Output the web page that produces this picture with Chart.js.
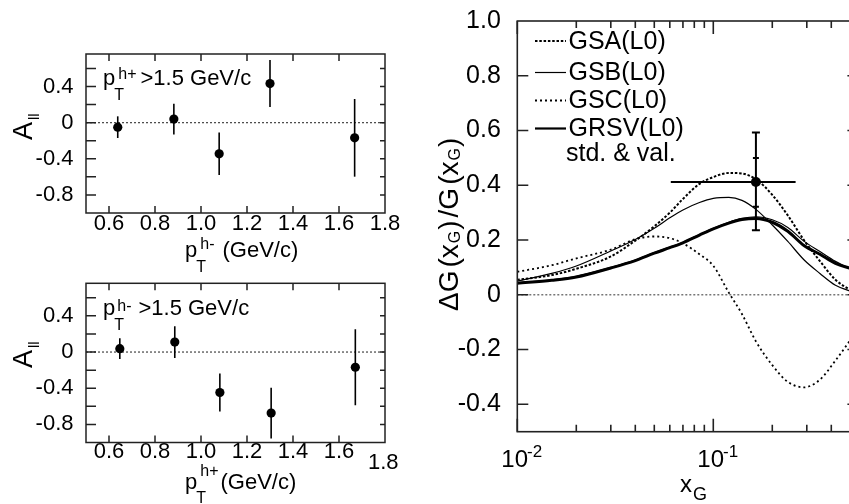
<!DOCTYPE html>
<html><head><meta charset="utf-8">
<script src="https://cdn.jsdelivr.net/npm/chart.js@4.4.0/dist/chart.umd.min.js"></script>
<style>
html,body{margin:0;padding:0;background:#fff;overflow:hidden;width:849px;height:504px;position:relative;}
canvas{position:absolute;}
#cA{left:0;top:0;} #cB{left:0;top:250px;} #cC{left:420px;top:0;}
</style></head><body>
<canvas id="cA" width="420" height="280"></canvas>
<canvas id="cB" width="420" height="254"></canvas>
<canvas id="cC" width="445" height="504"></canvas>
<script>
// ---------------- data ----------------
// top-left panel: pT(h+) > 1.5 GeV/c, A_ll vs pT(h-)
const topPt   = [0.638, 0.882, 1.079, 1.300, 1.668];
const topAll  = [-0.050, 0.040, -0.345, 0.433, -0.168];
const topErr  = [0.120, 0.170, 0.235, 0.260, 0.430];
// bottom-left panel: pT(h-) > 1.5 GeV/c, A_ll vs pT(h+)
const botPt   = [0.647, 0.886, 1.082, 1.305, 1.671];
const botAll  = [0.037, 0.110, -0.447, -0.675, -0.168];
const botErr  = [0.115, 0.175, 0.210, 0.280, 0.420];
const ptRange = [0.5, 1.8];
const xTickLabels = ['0.6','0.8','1.0','1.2','1.4','1.6','1.8'];
const yTickLabelsSmall = ['0.4','0','-0.4','-0.8'];
const yMinorSmall = [-0.8,-0.6,-0.4,-0.2,0,0.2,0.4,0.6];

// right panel: Delta G / G vs x_G
const xG      = [0.01,0.015,0.02,0.03,0.04,0.05,0.06,0.07,0.085,0.1,0.12,0.14,0.165,0.2,0.24,0.29,0.35,0.42,0.5,0.55];
const gsa     = [0.055,0.072,0.095,0.140,0.198,0.250,0.300,0.350,0.405,0.430,0.445,0.443,0.422,0.365,0.290,0.200,0.123,0.055,0.018,0.003];
const gsb     = [0.050,0.078,0.105,0.160,0.202,0.243,0.281,0.310,0.337,0.352,0.356,0.345,0.312,0.255,0.195,0.128,0.078,0.035,0.014,0.005];
const gsc     = [0.084,0.108,0.133,0.165,0.203,0.213,0.207,0.188,0.148,0.106,0.008,-0.070,-0.170,-0.257,-0.318,-0.338,-0.310,-0.240,-0.165,-0.120];
const grsvStd = [0.042,0.053,0.065,0.098,0.125,0.152,0.172,0.190,0.218,0.241,0.262,0.275,0.279,0.265,0.232,0.180,0.148,0.115,0.097,0.088];
const grsvVal = [0.044,0.055,0.067,0.100,0.127,0.154,0.174,0.192,0.220,0.243,0.265,0.279,0.285,0.274,0.246,0.196,0.158,0.122,0.095,0.084];
const seriesLabels = ['GSA(L0)','GSB(L0)','GSC(L0)','GRSV(L0)'];
const seriesNote = 'std. & val.';
// measured point
const meas = {x: 0.165, y: 0.412, xLo: 0.0607, xHi: 0.263, statLo: 0.322, statHi: 0.500, totLo: 0.236, totHi: 0.593};
const xGRange = [0.01, 0.55];
const yTickLabelsRight = ['1.0','0.8','0.6','0.4','0.2','0','-0.2','-0.4'];
const logMajor = [0.01, 0.1];
const logExps  = ['-2', '-1'];
const logMinor = [0.02,0.03,0.04,0.05,0.06,0.07,0.08,0.09,0.2,0.3,0.4,0.5];

// ---------------- helpers ----------------
const FONT = '"Liberation Sans", Arial, Helvetica, sans-serif';
Chart.defaults.font.family = FONT;
Chart.defaults.color = '#000';

function findLabel(list, v) {
  const l = list.find(s => Math.abs(parseFloat(s) - v) < 1e-6);
  return l === undefined ? '' : l;
}

function drawRich(ctx, x0, y0, parts, rot) {
  ctx.save();
  ctx.translate(x0, y0);
  if (rot) ctx.rotate(rot);
  ctx.fillStyle = '#000';
  ctx.textBaseline = 'alphabetic';
  ctx.textAlign = 'left';
  let x = 0, prevStart = 0;
  for (const p of parts) {
    ctx.font = p.s + 'px ' + FONT;
    const start = (p.back ? prevStart : x) + (p.dx || 0);
    ctx.fillText(p.t, start, p.dy || 0);
    const w = ctx.measureText(p.t).width;
    prevStart = start;
    x = Math.max(x, start + w);
  }
  ctx.restore();
}

function framePlugin(o) {
  return {
    id: 'frame',
    afterDatasetsDraw(chart) {
      const {ctx, chartArea: a, scales: {x, y}} = chart;
      ctx.save();
      ctx.strokeStyle = '#222';
      ctx.lineWidth = o.width;
      ctx.beginPath();
      const vline = (v, len) => { const p = x.getPixelForValue(v);
        ctx.moveTo(p, a.bottom); ctx.lineTo(p, a.bottom - len);
        ctx.moveTo(p, a.top); ctx.lineTo(p, a.top + len); };
      const hline = (v, lenL, lenR) => { const p = y.getPixelForValue(v);
        ctx.moveTo(a.left, p); ctx.lineTo(a.left + lenL, p);
        ctx.moveTo(a.right, p); ctx.lineTo(a.right - lenR, p); };
      o.xMajor.forEach(v => vline(v, o.xMajorLen));
      (o.xMinor || []).forEach(v => vline(v, o.xMinorLen));
      o.yTicks.forEach(v => hline(v, o.yLenL, o.yLenR));
      ctx.stroke();
      ctx.strokeRect(a.left, a.top, a.right - a.left, a.bottom - a.top);
      ctx.restore();
    }
  };
}

function textPlugin(items) {
  return {
    id: 'texts',
    afterDraw(chart) {
      const ctx = chart.ctx;
      items.forEach(it => {
        const pos = typeof it.pos === 'function' ? it.pos(chart) : it.pos;
        drawRich(ctx, pos[0], pos[1], it.parts, it.rot || 0);
      });
    }
  };
}

function smallPanel(id, X, Y, E, cfg) {
  const datasets = [];
  datasets.push({data: X.map((x, i) => ({x, y: Y[i]})), showLine: false,
    pointRadius: 4.6, pointBackgroundColor: '#000', pointBorderColor: '#000', pointBorderWidth: 0, order: 0});
  X.forEach((x, i) => datasets.push({data: [{x, y: Y[i] - E[i]}, {x, y: Y[i] + E[i]}], showLine: true,
    borderColor: '#000', borderWidth: 1.6, pointRadius: 0, order: 1}));
  datasets.push({data: [{x: ptRange[0], y: 0}, {x: ptRange[1], y: 0}], showLine: true,
    borderColor: '#444', borderWidth: 1.2, borderDash: [2, 2], pointRadius: 0, order: 2});
  new Chart(document.getElementById(id), {
    type: 'scatter',
    data: {datasets},
    options: {
      responsive: false, animation: false, events: [], devicePixelRatio: 1,
      layout: {padding: {top: cfg.padTop, right: 35, left: 0, bottom: 0}},
      plugins: {legend: {display: false}, tooltip: {enabled: false}},
      scales: {
        x: {type: 'linear', min: ptRange[0], max: ptRange[1],
          grid: {display: false}, border: {display: false},
          ticks: {stepSize: 0.2, includeBounds: false, autoSkip: false, maxRotation: 0, minRotation: 0,
            padding: cfg.xPad, font: {size: 22, lineHeight: 1}, color: '#000',
            callback: v => (cfg.hide18 && Math.abs(v - 1.8) < 1e-6) ? '' : findLabel(xTickLabels, v)},
          afterFit: s => { s.height = cfg.xH; }},
        y: {type: 'linear', min: -1.0, max: 0.76,
          grid: {display: false}, border: {display: false},
          ticks: {stepSize: 0.2, includeBounds: false, autoSkip: false, padding: 4.5,
            font: {size: 22, lineHeight: 1}, color: '#000',
            callback: v => findLabel(yTickLabelsSmall, v)},
          afterFit: s => { s.width = 86; }}
      }
    },
    plugins: [
      framePlugin({width: 1.5, xMajor: [0.6,0.8,1.0,1.2,1.4,1.6], xMajorLen: 7, yTicks: yMinorSmall, yLenL: 10, yLenR: 5}),
      textPlugin(cfg.texts)
    ]
  });
}

// ---------------- top-left ----------------
smallPanel('cA', topPt, topAll, topErr, {
  padTop: 54, xH: 67, xPad: -8.5, hide18: false,
  texts: [
    {pos: [32, 140], rot: -Math.PI / 2, parts: [{t: 'A', s: 27}, {t: 'll', s: 15, dy: 7, dx: 2}]},
    {pos: [103, 85], parts: [{t: 'p', s: 22}, {t: 'T', s: 16, dy: 15, dx: -1}, {t: 'h+', s: 16, dy: -6, back: true, dx: 4}, {t: '>1.5 GeV/c', s: 22, dx: 4}]},
    {pos: [185, 257], parts: [{t: 'p', s: 22}, {t: 'T', s: 16, dy: 15, dx: -1}, {t: 'h-', s: 16, dy: -8, back: true, dx: 4}, {t: '(GeV/c)', s: 22, dx: 8}]}
  ]
});

// ---------------- bottom-left ----------------
smallPanel('cB', botPt, botAll, botErr, {
  padTop: 33.3, xH: 61.5, xPad: -10, hide18: true,
  texts: [
    {pos: [32, 118], rot: -Math.PI / 2, parts: [{t: 'A', s: 27}, {t: 'll', s: 15, dy: 7, dx: 2}]},
    {pos: [103, 65], parts: [{t: 'p', s: 22}, {t: 'T', s: 16, dy: 15, dx: -1}, {t: 'h-', s: 16, dy: -4, back: true, dx: 3}, {t: '>1.5 GeV/c', s: 22, dx: 7}]},
    {pos: [185, 239], parts: [{t: 'p', s: 22}, {t: 'T', s: 16, dy: 14, dx: -1}, {t: 'h+', s: 16, dy: -13, back: true, dx: 4}, {t: '(GeV/c)', s: 22, dx: 2}]},
    {pos: c => [c.scales.x.getPixelForValue(1.8) - 17, 219], parts: [{t: xTickLabels[6], s: 22}]}
  ]
});

// ---------------- right ----------------
const curveStyles = [
  {borderWidth: 2.0, borderDash: [2.5, 1.8]},
  {borderWidth: 1.2, borderDash: []},
  {borderWidth: 1.8, borderDash: [2, 3]},
  {borderWidth: 3.0, borderDash: []}
];
const curveData = [gsa, gsb, gsc, grsvStd];
const rightSets = [];
rightSets.push({data: [{x: meas.x, y: meas.y}], showLine: false, pointRadius: 5, pointBackgroundColor: '#000', pointBorderWidth: 0, order: 0});
rightSets.push({data: [meas.totLo, meas.statLo, meas.statHi, meas.totHi].map(y => ({x: meas.x, y})), showLine: true,
  borderColor: '#000', borderWidth: 2, pointStyle: 'line', pointRadius: [4, 3, 3, 4], pointBorderColor: '#000', pointBorderWidth: 2, order: 1});
rightSets.push({data: [{x: meas.xLo, y: meas.y}, {x: meas.xHi, y: meas.y}], showLine: true, borderColor: '#000', borderWidth: 2, pointRadius: 0, order: 1});
curveData.forEach((arr, k) => rightSets.push(Object.assign({label: seriesLabels[k], data: xG.map((x, i) => ({x, y: arr[i]})), showLine: true,
  borderColor: '#000', pointRadius: 0, cubicInterpolationMode: 'monotone', order: 2}, curveStyles[k])));
rightSets.push({data: xG.map((x, i) => ({x, y: grsvVal[i]})), showLine: true, borderColor: '#000', borderWidth: 1.2, pointRadius: 0, cubicInterpolationMode: 'monotone', order: 2});
rightSets.push({data: [{x: xGRange[0], y: 0}, {x: xGRange[1], y: 0}], showLine: true, borderColor: '#555', borderWidth: 1.2, borderDash: [2, 2], pointRadius: 0, order: 3});

const legendPlugin = {
  id: 'customLegend',
  afterDraw(chart) {
    const ctx = chart.ctx;
    const rows = [48.5, 80, 108, 136, 161];
    seriesLabels.forEach((lbl, k) => {
      const st = curveStyles[k];
      const yl = rows[k] - 7.5;
      ctx.save();
      ctx.strokeStyle = '#000';
      ctx.lineWidth = Math.min(st.borderWidth, 2.2);
      ctx.setLineDash(st.borderDash);
      ctx.beginPath(); ctx.moveTo(115, yl); ctx.lineTo(146, yl); ctx.stroke();
      ctx.restore();
      drawRich(ctx, 148.5, rows[k], [{t: lbl, s: 25}]);
    });
    drawRich(ctx, 146, rows[4], [{t: seriesNote, s: 25}]);
  }
};

new Chart(document.getElementById('cC'), {
  type: 'scatter',
  data: {datasets: rightSets},
  options: {
    responsive: false, animation: false, events: [], devicePixelRatio: 1,
    layout: {padding: {top: 17.3, right: 6.6, left: 0, bottom: 0}},
    plugins: {legend: {display: false}, tooltip: {enabled: false}},
    scales: {
      x: {type: 'logarithmic', min: xGRange[0], max: xGRange[1],
        grid: {display: false}, border: {display: false},
        ticks: {autoSkip: false, maxRotation: 0, minRotation: 0, callback: () => ''},
        afterFit: s => { s.height = 72.3; }},
      y: {type: 'linear', min: -0.5, max: 1.0,
        grid: {display: false}, border: {display: false},
        ticks: {stepSize: 0.2, includeBounds: false, autoSkip: false, padding: 8.5,
          font: {size: 25, lineHeight: 1}, color: '#000',
          callback: v => findLabel(yTickLabelsRight, v)},
        afterFit: s => { s.width = 97.3; }}
    }
  },
  plugins: [
    framePlugin({width: 1.6, xMajor: logMajor, xMajorLen: 13, xMinor: logMinor, xMinorLen: 7,
      yTicks: [-0.4,-0.2,0,0.2,0.4,0.6,0.8], yLenL: 11, yLenR: 11}),
    legendPlugin,
    textPlugin([
      ...logMajor.map((v, i) => ({pos: c => [c.scales.x.getPixelForValue(v) - 16, 466.5],
        parts: [{t: '10', s: 24}, {t: logExps[i], s: 17, dy: -10, dx: -1}]})),
      {pos: [260, 491.5], parts: [{t: 'x', s: 24}, {t: 'G', s: 18, dy: 8, dx: 1}]},
      {pos: [38, 311], rot: -Math.PI / 2, parts: [
        {t: 'ΔG', s: 28}, {t: '(', s: 28, dx: 3}, {t: 'x', s: 28}, {t: 'G', s: 16, dy: 2, dx: 1}, {t: ')', s: 28, dx: 1},
        {t: '/', s: 28, dx: 3}, {t: 'G', s: 28}, {t: '(', s: 28, dx: 3}, {t: 'x', s: 28}, {t: 'G', s: 16, dy: 2, dx: 1}, {t: ')', s: 28, dx: 1}]}
    ])
  ]
});
</script>
</body></html>
